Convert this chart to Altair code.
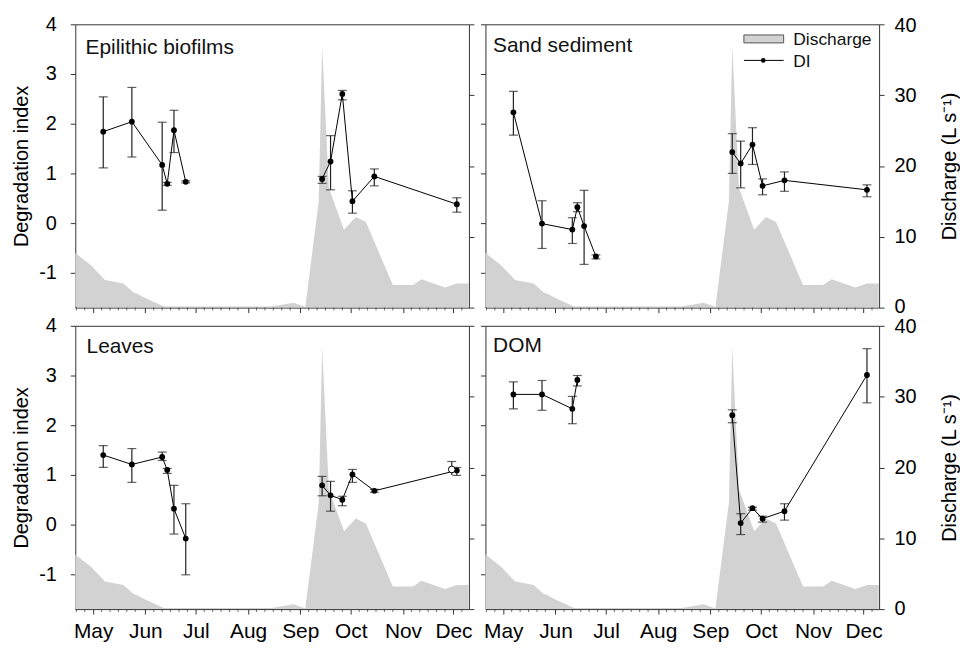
import altair as alt
import pandas as pd

YEAR = 2009
FONT = "Liberation Sans"

# ---------------- data ----------------
# discharge (L s-1), same series in all panels
q_dates = ["04-20", "04-30", "05-08", "05-19", "05-25", "05-27", "05-31", "06-12",
           "08-15", "08-28", "09-04", "09-12", "09-14", "09-18", "09-27", "10-04",
           "10-10", "10-26", "11-07", "11-12", "11-26", "12-03", "12-10"]
q_vals = [7.8, 5.9, 3.9, 3.4, 2.15, 2.0, 1.45, 0.15,
          0.15, 0.7, 0.1, 15.0, 37.0, 16.9, 11.0, 12.8,
          12.1, 3.2, 3.2, 4.0, 2.85, 3.4, 3.4]

sample_dates = ["05-07", "05-24", "06-11", "06-14", "06-18", "06-25",
                "09-14", "09-19", "09-26", "10-02", "10-15", "12-03"]
sample_group = [1, 1, 1, 1, 1, 1, 2, 2, 2, 2, 2, 2]

epi_di = [1.84, 2.04, 1.17, 0.79, 1.87, 0.83, 0.89, 1.24, 2.60, 0.44, 0.94, 0.38]
epi_hi = [2.54, 2.73, 2.03, 0.82, 2.27, 0.85, 0.94, 1.76, 2.67, 0.65, 1.09, 0.51]
epi_lo = [1.11, 1.33, 0.26, 0.76, 1.42, 0.81, 0.80, 0.67, 2.48, 0.20, 0.75, 0.22]

sand_di = [2.23, -0.01, -0.13, 0.32, -0.06, -0.67, 1.43, 1.20, 1.58, 0.75, 0.86, 0.67]
sand_hi = [2.65, 0.45, 0.11, 0.41, 0.66, -0.64, 1.80, 1.65, 1.92, 0.89, 1.03, 0.77]
sand_lo = [1.77, -0.51, -0.41, 0.23, -0.83, -0.72, 1.00, 0.71, 1.18, 0.57, 0.64, 0.53]

leaf_di = [1.40, 1.21, 1.36, 1.10, 0.32, -0.28, 0.79, 0.59, 0.50, 1.01, 0.68, 1.09]
leaf_hi = [1.59, 1.53, 1.46, 1.13, 0.79, 0.42, 0.97, 0.87, 0.57, 1.11, 0.71, 1.15]
leaf_lo = [1.15, 0.85, 1.29, 1.03, -0.19, -1.01, 0.58, 0.27, 0.38, 0.85, 0.65, 0.99]
leaf_open_date = ["11-30"]
leaf_open_di = [1.11]
leaf_open_hi = [1.27]
leaf_open_lo = [1.00]

dom_dates = ["05-07", "05-24", "06-11", "06-14",
             "09-14", "09-19", "09-26", "10-02", "10-15", "12-03"]
dom_group = [1, 1, 1, 1, 2, 2, 2, 2, 2, 2]
dom_di = [2.62, 2.62, 2.33, 2.91, 2.20, 0.03, 0.33, 0.12, 0.27, 3.01]
dom_hi = [2.87, 2.90, 2.58, 3.00, 2.31, 0.22, 0.35, 0.17, 0.42, 3.54]
dom_lo = [2.33, 2.30, 2.03, 2.79, 2.05, -0.20, 0.29, 0.05, 0.09, 2.45]

month_names = ["May", "Jun", "Jul", "Aug", "Sep", "Oct", "Nov", "Dec"]
month_starts = ["05-01", "06-01", "07-01", "08-01", "09-01", "10-01", "11-01", "12-01"]
minor_days_of_month = [6, 11, 16, 21, 26]
di_ticks = [-1, 0, 1, 2, 3, 4]
q_ticks = [0, 10, 20, 30, 40]


def doy(s):
    return int(pd.Timestamp(f"{YEAR}-{s}").dayofyear)


month_doy = [doy(m) for m in month_starts]
X_DOMAIN = [110.4, 344.2]
minor_doy = [d for m in ["04"] + [s[:2] for s in month_starts]
             for d in [doy(f"{m}-{k:02d}") for k in minor_days_of_month]
             if X_DOMAIN[0] < d < X_DOMAIN[1]]
W, H = 396, 285
AX = "#333333"
FS = 21

q_df = pd.DataFrame({"day": [doy(d) for d in q_dates], "q": q_vals})
minor_df = pd.DataFrame({"day": minor_doy})

label_expr = ("[" + ",".join(f"'{m}'" for m in month_names) + "][indexof(["
              + ",".join(str(d) for d in month_doy) + "], datum.value)]")
num_expr = "datum.value < 0 ? '-' + abs(datum.value) : '' + datum.value"


def xenc(show_labels, field="day"):
    return alt.X(f"{field}:Q",
                 scale=alt.Scale(domain=X_DOMAIN, nice=False, zero=False),
                 axis=alt.Axis(values=month_doy, labels=show_labels, labelExpr=label_expr,
                               title=None, grid=False, domain=False, tickSize=5,
                               tickColor=AX, labelFontSize=FS, labelPadding=7,
                               labelColor="black", labelFont=FONT))


def panel(dates, groups, di, hi, lo, name, name_xy, left_labels, right_labels,
          bottom_labels, legend=False, extra=None):
    df = pd.DataFrame({"day": [doy(d) for d in dates], "g": groups,
                       "di": di, "hi": hi, "lo": lo})
    yscale = alt.Scale(domain=[-1.7, 4], nice=False, zero=False)
    left_axis = alt.Axis(orient="left", values=di_ticks, labels=left_labels,
                         labelExpr=num_expr,
                         title="Degradation index" if left_labels else None,
                         grid=False, domain=False, tickSize=5, tickColor=AX,
                         labelFontSize=20, labelPadding=14, labelColor="black",
                         labelFont=FONT, titleFont=FONT, titleFontSize=20,
                         titleFontWeight="normal", titlePadding=7,
                         titleColor="black")
    right_axis = alt.Axis(orient="right", values=q_ticks, labels=right_labels,
                          labelExpr=num_expr, labelFlush=True, labelFlushOffset=9,
                          title="Discharge (L s⁻¹)" if right_labels else None,
                          grid=False, domain=False, tickSize=5, tickColor=AX,
                          labelFontSize=20, labelPadding=10, labelColor="black",
                          labelFont=FONT, titleFont=FONT, titleFontSize=20,
                          titleFontWeight="normal", titlePadding=23.5,
                          titleAngle=270, titleBaseline="top", titleColor="black")

    area = alt.Chart(q_df).mark_area(color="#d2d2d2", clip=True, interpolate="linear").encode(
        x=xenc(bottom_labels),
        y=alt.Y("q:Q", scale=alt.Scale(domain=[0, 40], nice=False), axis=right_axis),
    )

    minor = alt.Chart(minor_df).mark_tick(color=AX, orient="vertical", size=3,
                                          thickness=1).encode(
        x="day:Q", y=alt.value(H + 1.5))

    base = alt.Chart(df)
    bars = base.mark_rule(color="#222222", strokeWidth=1.2).encode(
        x=xenc(bottom_labels),
        y=alt.Y("hi:Q", scale=yscale, axis=left_axis),
        y2="lo:Q")
    cap_hi = base.mark_tick(color="#222222", orient="horizontal", size=9, thickness=1.2).encode(
        x="day:Q", y="hi:Q")
    cap_lo = base.mark_tick(color="#222222", orient="horizontal", size=9, thickness=1.2).encode(
        x="day:Q", y="lo:Q")
    line = base.mark_line(color="black", strokeWidth=1).encode(
        x="day:Q", y="di:Q", detail="g:N")
    pts = base.mark_circle(color="black", opacity=1, size=34).encode(
        x="day:Q", y="di:Q")
    di_layers = [bars, cap_hi, cap_lo, line, pts]
    if extra is not None:
        di_layers += extra
    di_layer = alt.layer(*di_layers)

    txt = alt.Chart(pd.DataFrame({"t": [name]})).mark_text(
        font=FONT, fontSize=FS, align="left", baseline="alphabetic", color="#111111").encode(
        text="t:N", x=alt.value(name_xy[0]), y=alt.value(name_xy[1]))

    layers = [area, di_layer, minor, txt]
    if legend:
        lx0, lx1 = 260, 300
        leg_rect = alt.Chart(pd.DataFrame({"a": [0]})).mark_rect(
            fill="#d2d2d2", stroke="#555555", strokeWidth=1).encode(
            x=alt.value(lx0), x2=alt.value(lx1), y=alt.value(10.7), y2=alt.value(18.7))
        leg_line = alt.Chart(pd.DataFrame({"a": [0]})).mark_rule(
            color="black", strokeWidth=1).encode(
            x=alt.value(lx0), x2=alt.value(lx1), y=alt.value(36.3))
        leg_dot = alt.Chart(pd.DataFrame({"a": [0]})).mark_circle(
            color="black", opacity=1, size=22).encode(
            x=alt.value(279.5), y=alt.value(36.3))
        leg_txt = alt.Chart(pd.DataFrame({"t": ["Discharge", "DI"], "yy": [21.3, 43.3]})).mark_text(
            font=FONT, fontSize=17.5, align="left", baseline="alphabetic", color="#111111").encode(
            text="t:N", x=alt.value(309.7), y=alt.Y("yy:Q", scale=None))
        layers += [leg_rect, leg_line, leg_dot, leg_txt]

    return alt.layer(*layers).resolve_scale(y="independent").properties(width=W, height=H)


# open symbol in Leaves panel
leaf_open_df = pd.DataFrame({"day": [doy(d) for d in leaf_open_date], "di": leaf_open_di,
                             "hi": leaf_open_hi, "lo": leaf_open_lo})
lo_base = alt.Chart(leaf_open_df)
leaf_extra = [
    lo_base.mark_tick(color="#222222", orient="horizontal", size=9, thickness=1.2).encode(
        x="day:Q", y="hi:Q"),
    lo_base.mark_rule(color="#222222", strokeWidth=1.2).encode(x="day:Q", y="hi:Q", y2="lo:Q"),
    lo_base.mark_point(shape="circle", filled=True, fill="white", stroke="black",
                       strokeWidth=1, size=45, opacity=1).encode(x="day:Q", y="di:Q"),
]

p1 = panel(sample_dates, sample_group, epi_di, epi_hi, epi_lo, "Epilithic biofilms",
           (10.3, 29.7), True, False, False)
p2 = panel(sample_dates, sample_group, sand_di, sand_hi, sand_lo, "Sand sediment",
           (7.7, 28.0), False, True, False, legend=True)
p3 = panel(sample_dates, sample_group, leaf_di, leaf_hi, leaf_lo, "Leaves",
           (11.3, 27.4), True, False, True, extra=leaf_extra)
p4 = panel(dom_dates, dom_group, dom_di, dom_hi, dom_lo, "DOM",
           (7.7, 26.3), False, True, True)

chart = alt.concat(p1, p2, p3, p4, columns=2, spacing={"row": 18.3, "column": 16.6},
                   bounds="flush").properties(
    padding={"left": 2.7, "top": 3.5, "right": 0, "bottom": 0},
    background="white",
).configure_view(stroke=AX, strokeWidth=1)

chart.save("out.html", embed_options={"renderer": "svg", "actions": False})
